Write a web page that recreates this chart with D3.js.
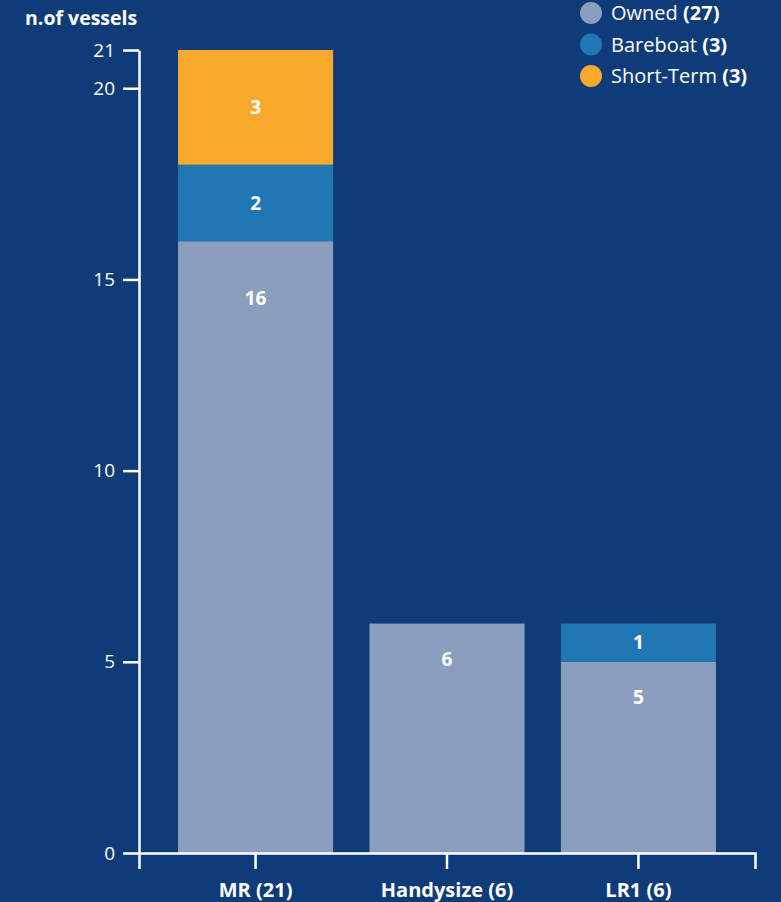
<!DOCTYPE html>
<html>
<head>
<meta charset="utf-8">
<script src="https://cdn.jsdelivr.net/npm/d3@7"></script>
<style>
  html, body { margin: 0; padding: 0; background: #0f3c78; }
  svg { display: block; font-family: "Open Sans", "Noto Sans", sans-serif; }
</style>
</head>
<body>
<svg id="chart" width="781" height="902"></svg>
<script>
// Fleet composition by vessel class
const categories = ["MR", "Handysize", "LR1"];
const seriesNames = ["Owned", "Bareboat", "Short-Term"];
const owned = [16, 6, 5];
const bareboat = [2, 0, 1];
const shortTerm = [3, 0, 0];
const yTicks = [0, 5, 10, 15, 20, 21];
const colors = ["#8a9fbd", "#2077b4", "#f9a92d"];

const seriesValues = [owned, bareboat, shortTerm];
const totals = categories.map((c, i) => d3.sum(seriesValues, s => s[i]));
const seriesTotals = seriesValues.map(s => d3.sum(s));

const rows = categories.map((c, i) => {
  const r = { category: c };
  seriesNames.forEach((n, j) => r[n] = seriesValues[j][i]);
  return r;
});

const svg = d3.select("#chart");
const margin = { left: 139, right: 26, top: 50, bottom: 49 };
const W = 781, H = 902;

const x = d3.scaleBand()
  .domain(categories)
  .range([margin.left, W - margin.right])
  .paddingInner(0.19)
  .paddingOuter(0.204);

const y = d3.scaleLinear()
  .domain([0, 21])
  .range([H - margin.bottom, margin.top]);

const stack = d3.stack().keys(seriesNames);
const layers = stack(rows);

// stacked bars
const g = svg.append("g");
layers.forEach((layer, j) => {
  g.selectAll(null)
    .data(layer.filter(d => d[1] - d[0] > 0))
    .join("rect")
    .attr("x", d => x(d.data.category))
    .attr("width", x.bandwidth())
    .attr("y", d => y(d[1]))
    .attr("height", d => y(d[0]) - y(d[1]))
    .attr("fill", colors[j]);
});

// value labels inside segments
layers.forEach((layer, j) => {
  g.selectAll(null)
    .data(layer.filter(d => d[1] - d[0] > 0))
    .join("text")
    .attr("x", d => x(d.data.category) + x.bandwidth() / 2)
    .attr("y", d => {
      const top = y(d[1]);
      const h = y(d[0]) - top;
      const total = totals[categories.indexOf(d.data.category)];
      const cap = total > 10 ? 57 : 36;
      return top + Math.min(h / 2, cap);
    })
    .attr("dy", "0.35em")
    .attr("text-anchor", "middle")
    .attr("fill", "#ffffff")
    .attr("font-weight", 700)
    .attr("font-size", 19)
    .text(d => d[1] - d[0]);
});

// y axis
const yAxis = svg.append("g")
  .attr("transform", `translate(${margin.left},0)`)
  .call(d3.axisLeft(y).tickValues(yTicks).tickSize(16).tickSizeOuter(0).tickPadding(8));
yAxis.select(".domain").attr("stroke", "#fff").attr("stroke-width", 2.5);
yAxis.selectAll(".tick line").attr("stroke", "#fff").attr("stroke-width", 2.5);
yAxis.selectAll(".tick text")
  .attr("fill", "#fff")
  .attr("font-size", 19)
  .attr("font-family", "'Open Sans', sans-serif")
  .attr("font-weight", 400);

// x axis
const xAxis = svg.append("g")
  .attr("transform", `translate(0,${y(0)})`)
  .call(d3.axisBottom(x).tickSize(16).tickSizeOuter(16).tickPadding(14)
    .tickFormat((c, i) => `${c} (${totals[i]})`));
xAxis.select(".domain").attr("stroke", "#fff").attr("stroke-width", 2.5);
xAxis.selectAll(".tick line").attr("stroke", "#fff").attr("stroke-width", 2.5);
xAxis.selectAll(".tick text")
  .attr("fill", "#fff")
  .attr("font-size", 20)
  .attr("font-weight", 700)
  .attr("font-family", "'Open Sans', sans-serif");

// y axis title
svg.append("text")
  .attr("x", 25)
  .attr("y", 25)
  .attr("fill", "#fff")
  .attr("font-size", 19.5)
  .attr("font-weight", 700)
  .text("n.of vessels");

// legend
const legend = svg.append("g").attr("transform", "translate(591,13)");
seriesNames.forEach((n, j) => {
  const item = legend.append("g").attr("transform", `translate(0,${j * 31.5})`);
  item.append("circle").attr("r", 11).attr("fill", colors[j]);
  const t = item.append("text")
    .attr("x", 20)
    .attr("dy", "0.35em")
    .attr("fill", "#fff")
    .attr("font-size", 20);
  t.append("tspan").text(n + " ");
  t.append("tspan").attr("font-weight", 700).text(`(${seriesTotals[j]})`);
});
</script>
</body>
</html>
